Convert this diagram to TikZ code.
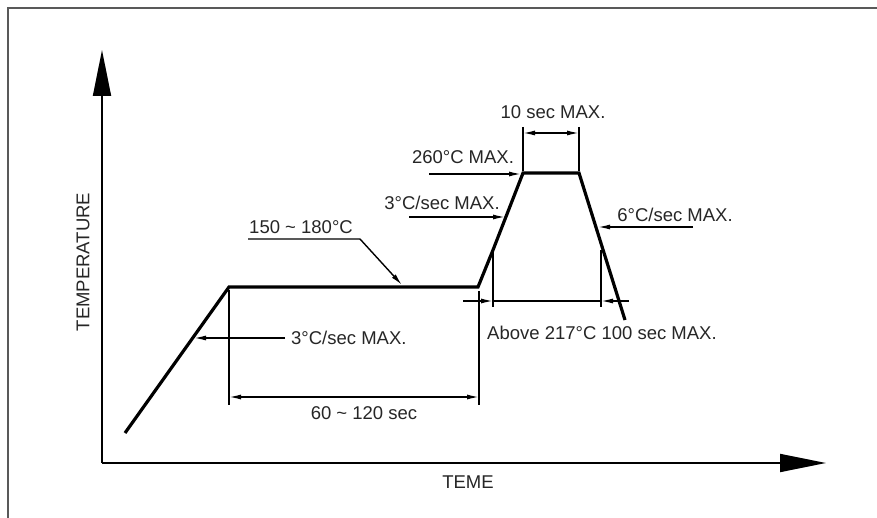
\documentclass[tikz,border=0pt]{standalone}
\usepackage{fontspec}
\setmainfont{Liberation Sans}
\usepackage{tikz}
\usetikzlibrary{arrows.meta}
\tikzset{%
  >={Latex[width=5pt,length=12pt]},
  axis/.style    = {line width=1.8pt, -{Triangle[width=18pt,length=46pt]}},
  profile/.style = {line width=3.2pt, line join=miter},
  dim/.style     = {line width=1.4pt},
  lbl/.style     = {font=\fontsize{18.5}{22}\selectfont, text=black!85, inner sep=0pt},
}

\begin{document}
\begin{tikzpicture}[x=1pt, y=-1pt]
  \useasboundingbox (0,0) rectangle (877,518);

  % frame
  \draw[line width=1.6pt, black!65] (8,518) -- (8,8) -- (877,8);

  % axes
  \coordinate (orig)  at (102,463);
  \coordinate (ytip)  at (102,50);
  \coordinate (xtip)  at (826,463);
  \draw[axis] (orig) -- (ytip);
  \draw[axis] (orig) -- (xtip);

  % reflow profile
  \coordinate (pStart) at (125,433);
  \coordinate (pSoakA) at (229,287);
  \coordinate (pSoakB) at (478,287);
  \coordinate (pLiq)   at (493,250);
  \coordinate (pPeakA) at (523,173);
  \coordinate (pPeakB) at (579,173);
  \coordinate (pEnd)   at (625,320);
  \draw[profile] (pStart) -- (pSoakA) -- (pSoakB) -- (pLiq) -- (pPeakA) -- (pPeakB) -- (pEnd);

  % soak time dimension
  \draw[dim] (229,290) -- (229,405);
  \draw[dim] (479,291) -- (479,405);
  \draw[dim, <->] (229,397) -- (479,397);

  % peak time dimension
  \draw[dim] (523,127) -- (523,171);
  \draw[dim] (579,127) -- (579,171);
  \draw[dim, <->] (523,133) -- (579,133);

  % time above liquidus
  \draw[dim] (493,250) -- (493,307);
  \draw[dim] (601,250) -- (601,307);
  \draw[dim, ->] (463,301) -- (493,301);
  \draw[dim, ->] (629,301) -- (601,301);
  \draw[dim] (493,301) -- (601,301);

  % pointers
  \draw[dim, ->] (248,239) -- (360,239) -- (402,285);
  \draw[dim, ->] (285,338) -- (194,338);
  \draw[dim, ->] (409,217) -- (505,217);
  \draw[dim, ->] (429,174) -- (521,174);
  \draw[dim, ->] (693,227) -- (598,227);

  % labels
  \node (lblPeakT)  [lbl] at (553,112) {10 sec MAX.};
  \node (lblPeak)   [lbl] at (463,157) {260°C MAX.};
  \node (lblRamp2)  [lbl] at (442,203) {3°C/sec MAX.};
  \node (lblCool)   [lbl] at (675,215) {6°C/sec MAX.};
  \node (lblSoak)   [lbl] at (301,227) {150 \textasciitilde{} 180°C};
  \node (lblRamp1)  [lbl, anchor=west] at (291,338) {3°C/sec MAX.};
  \node (lblAbove)  [lbl, anchor=west] at (487,333) {Above 217°C 100 sec MAX.};
  \node (lblSoakT)  [lbl] at (364,413) {60 \textasciitilde{} 120 sec};
  \node (lblTemp)   [lbl, rotate=90] at (83,262) {TEMPERATURE};
  \node (lblTime)   [lbl] at (468,482) {TEME};
\end{tikzpicture}
\end{document}
